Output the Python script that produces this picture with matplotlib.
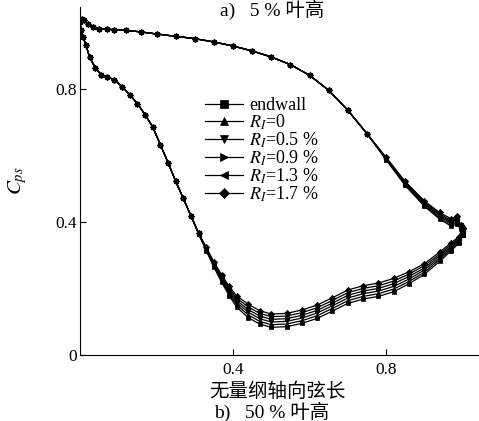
import matplotlib
matplotlib.use("Agg")
import matplotlib.pyplot as plt
import numpy as np

plt.rcParams["font.family"] = ["Liberation Serif", "Noto Sans CJK SC"]
plt.rcParams["mathtext.fontset"] = "stix"

# Series labels and marker styles
labels = ["endwall", r"$R_I$=0", r"$R_I$=0.5 %", r"$R_I$=0.9 %", r"$R_I$=1.3 %", r"$R_I$=1.7 %"]
markers = ["s", "^", "v", ">", "<", "D"]

# Upper branch: leading part shared by all cases
x_up_front = [0.0, 0.004, 0.01, 0.02, 0.035, 0.05, 0.07, 0.09, 0.12, 0.16, 0.20, 0.25,
              0.30, 0.35, 0.40, 0.45, 0.50, 0.55, 0.60, 0.65, 0.70, 0.75]
cp_up_front = [1.000, 1.008, 1.005, 0.995, 0.985, 0.980, 0.978, 0.977, 0.975, 0.970, 0.964, 0.957,
               0.950, 0.940, 0.928, 0.913, 0.895, 0.872, 0.840, 0.795, 0.735, 0.665]

# Upper branch: rear part per case
x_up_rear = [0.80, 0.85, 0.90, 0.94, 0.97, 0.985, 0.995, 1.0]
cp_up_endwall = [0.586, 0.509, 0.447, 0.408, 0.387, 0.393, 0.379, 0.360]
cp_up_r00 = [0.588, 0.511, 0.450, 0.412, 0.392, 0.398, 0.382, 0.364]
cp_up_r05 = [0.589, 0.514, 0.453, 0.416, 0.396, 0.403, 0.384, 0.368]
cp_up_r09 = [0.591, 0.516, 0.457, 0.420, 0.400, 0.408, 0.386, 0.372]
cp_up_r13 = [0.592, 0.519, 0.460, 0.424, 0.404, 0.412, 0.389, 0.376]
cp_up_r17 = [0.594, 0.521, 0.463, 0.428, 0.409, 0.417, 0.391, 0.380]

# Lower branch: leading part shared by all cases
x_lo_front = [0.0, 0.003, 0.008, 0.015, 0.025, 0.04, 0.055, 0.07, 0.09, 0.11, 0.13, 0.15,
              0.17, 0.19, 0.21, 0.23, 0.25, 0.27, 0.29]
cp_lo_front = [1.0, 0.975, 0.955, 0.932, 0.895, 0.862, 0.842, 0.836, 0.826, 0.806, 0.782, 0.755,
               0.722, 0.685, 0.632, 0.578, 0.522, 0.470, 0.418]

# Lower branch: rear part per case
x_lo_rear = [0.31, 0.33, 0.35, 0.37, 0.39, 0.41, 0.44, 0.47, 0.50, 0.54, 0.58, 0.62, 0.66,
             0.70, 0.74, 0.78, 0.82, 0.86, 0.90, 0.94, 0.97, 0.99, 1.0]
cp_lo_endwall = [0.363, 0.313, 0.264, 0.219, 0.178, 0.143, 0.112, 0.093, 0.083, 0.085, 0.095, 0.110,
                 0.132, 0.155, 0.168, 0.176, 0.190, 0.214, 0.242, 0.281, 0.313, 0.335, 0.360]
cp_lo_r00 = [0.364, 0.315, 0.267, 0.223, 0.184, 0.150, 0.120, 0.101, 0.091, 0.093, 0.103, 0.118,
             0.140, 0.163, 0.176, 0.184, 0.198, 0.221, 0.248, 0.287, 0.318, 0.339, 0.364]
cp_lo_r05 = [0.365, 0.317, 0.270, 0.228, 0.189, 0.157, 0.128, 0.109, 0.099, 0.101, 0.111, 0.126,
             0.148, 0.171, 0.184, 0.192, 0.206, 0.228, 0.255, 0.292, 0.323, 0.343, 0.368]
cp_lo_r09 = [0.365, 0.319, 0.274, 0.232, 0.195, 0.163, 0.136, 0.117, 0.107, 0.109, 0.119, 0.134,
             0.156, 0.179, 0.192, 0.200, 0.214, 0.236, 0.261, 0.298, 0.327, 0.347, 0.372]
cp_lo_r13 = [0.366, 0.321, 0.277, 0.237, 0.200, 0.170, 0.144, 0.125, 0.115, 0.117, 0.127, 0.142,
             0.164, 0.187, 0.200, 0.208, 0.222, 0.243, 0.268, 0.303, 0.332, 0.351, 0.376]
cp_lo_r17 = [0.367, 0.323, 0.280, 0.241, 0.206, 0.177, 0.152, 0.133, 0.123, 0.125, 0.135, 0.150,
             0.172, 0.195, 0.208, 0.216, 0.230, 0.250, 0.274, 0.309, 0.337, 0.355, 0.380]

up_rears = [cp_up_endwall, cp_up_r00, cp_up_r05, cp_up_r09, cp_up_r13, cp_up_r17]
lo_rears = [cp_lo_endwall, cp_lo_r00, cp_lo_r05, cp_lo_r09, cp_lo_r13, cp_lo_r17]

x_ticks = [0.4, 0.8]
y_ticks = [0, 0.4, 0.8]

fig = plt.figure(figsize=(4.79, 4.21), dpi=100)
ax = fig.add_axes([80 / 479, 66 / 421, 399 / 479, 348 / 421])

for lab, mk, up, lo in zip(labels, markers, up_rears, lo_rears):
    # closed loop: trailing edge -> upper branch -> leading edge -> lower branch -> trailing edge
    xs = list(reversed(x_up_front + x_up_rear)) + x_lo_front[1:] + x_lo_rear
    ys = list(reversed(cp_up_front + up)) + cp_lo_front[1:] + lo
    ax.plot(xs, ys, color="black", lw=0.9, marker=mk, markersize=3.2,
            markeredgewidth=0.5, label=lab)

ax.set_xlim(0, 1.043)
ax.set_ylim(0, 1.045)
ax.set_xticks(x_ticks)
ax.set_xticklabels(["0.4", "0.8"])
ax.set_yticks(y_ticks)
ax.set_yticklabels(["0", "0.4", "0.8"])
ax.tick_params(direction="in", length=4, width=0.8, labelsize=12.5)
ax.tick_params(axis="x", pad=5)
ax.tick_params(axis="y", pad=2)
for side in ["top", "right"]:
    ax.spines[side].set_visible(False)
for side in ["left", "bottom"]:
    ax.spines[side].set_linewidth(0.8)

ax.set_ylabel(r"$C_{ps}$", fontsize=15, labelpad=19)

leg = ax.legend(loc="upper left", bbox_to_anchor=(205 / 479, 1 - 97 / 421),
                bbox_transform=fig.transFigure, frameon=False, fontsize=13,
                handlelength=2.1, handletextpad=0.35, labelspacing=-0.08,
                borderpad=0, borderaxespad=0, markerscale=1.7)

fig.text(272 / 479, 1 - 10 / 421, "a)\u2002 5 % 叶高", ha="center", va="center", fontsize=14)
fig.text(277 / 479, 1 - 392 / 421, "无量纲轴向弦长", ha="center", va="center", fontsize=14)
fig.text(272 / 479, 1 - 412 / 421, "b)\u2002 50 % 叶高", ha="center", va="center", fontsize=14)

fig.savefig("out.png", dpi=100)
